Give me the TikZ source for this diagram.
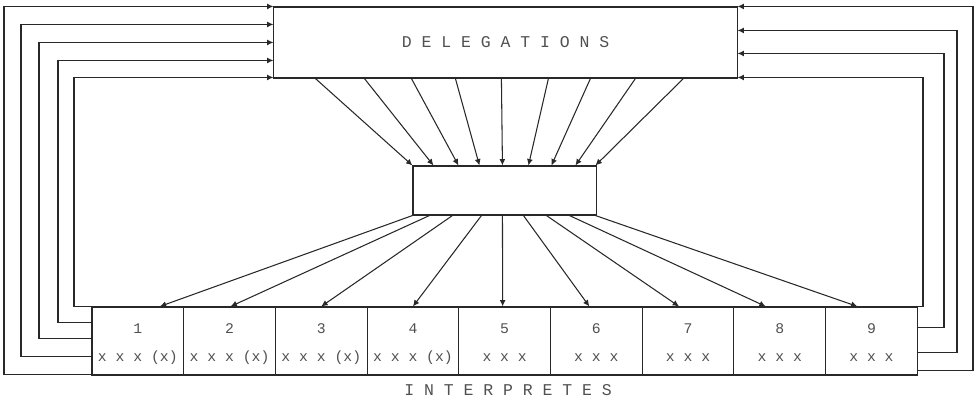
\documentclass[tikz,border=0pt]{standalone}
\usepackage{fontspec}
\usepackage{tikz}
\usetikzlibrary{arrows.meta,positioning,calc}
\newfontfamily\machine{Liberation Mono}
\definecolor{encre}{RGB}{40,40,40}
\definecolor{frappe}{RGB}{80,80,80}
\tikzset{
  cadre/.style={rectangle,draw=encre,line width=0.75pt,inner sep=0pt},
  cabine/.style={cadre,minimum width=2.2925cm,minimum height=1.7cm},
  fleche/.style={-{Latex[length=1.6mm,width=1.5mm]},line width=0.75pt,encre},
  frappe/.style={text=frappe,font=\machine\fontsize{10.5}{12}\selectfont},
  titre/.style={text=frappe,font=\machine\fontsize{11.7}{13}\selectfont}
}

\begin{document}
\begin{tikzpicture}[x=0.025cm,y=-0.025cm]
  \useasboundingbox (0,0) rectangle (980,400);
  % boites
  \node[cadre,minimum width=11.575cm,minimum height=1.775cm,titre] (deleg)
    at (505.5,42.5) {D E L E G A T I O N S};
  \node[cadre,minimum width=4.575cm,minimum height=1.225cm] (relais)
    at (504.5,190.5) {};
  \foreach \i/\txt in {1/x x x (x),2/x x x (x),3/x x x (x),4/x x x (x),
      5/x x x,6/x x x,7/x x x,8/x x x,9/x x x}
    {\node[cabine] (b\i) at ({92+91.7*(\i-0.5)},341) {};
     \node[frappe] (n\i) at ($(b\i.center)+(0,-12)$) {\i};
     \node[frappe] (x\i) at ($(b\i.center)+(0,17)$) {\txt};}
  \node[titre] (interp) at (508,390) {I N T E R P R E T E S};
  % retours
  \foreach \voie/\dy/\dz in {4/68/0,21/50/18,39/32/36,58/16/54,74/0/71}
    \draw[fleche] ($(b1.north west)+(0,\dy)$) -| (\voie,200)
      |- ($(deleg.north west)+(0,\dz)$);
  \foreach \voie/\dy/\dz in {923/0/71,944/21/47,957/46/24,973/64/0}
    \draw[fleche] ($(b9.north east)+(0,\dy)$) -| (\voie,200)
      |- ($(deleg.north east)+(0,\dz)$);
  % vers le relais
  \foreach \da/\db in {42/0,91/21,138/46,182/67,228/90,275/116,317/139,
      362/163,410/183}
    \draw[fleche] ($(deleg.south west)+(\da,0)$) -- ($(relais.north west)+(\db,0)$);
  % vers les cabines
  \foreach \da/\i/\dx in {0/1/22,17/2/1,40/3/0,69/4/0,90/5/-2,111/6/-7,
      134/7/-9,157/8/-14,183/9/-14}
    \draw[fleche] ($(relais.south west)+(\da,0)$) -- ($(b\i.north)+(\dx,0)$);
\end{tikzpicture}
\end{document}
